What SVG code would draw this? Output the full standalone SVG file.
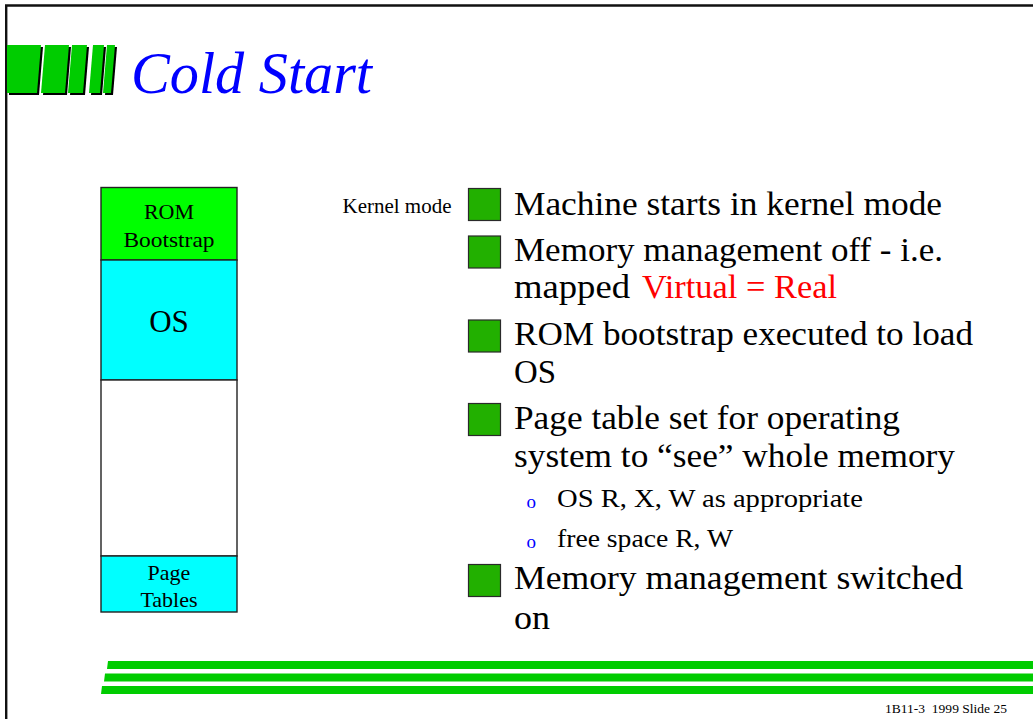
<svg xmlns="http://www.w3.org/2000/svg" width="1033" height="719" viewBox="0 0 1033 719">
  <style>
    .serif { font-family: "Liberation Serif", "Times New Roman", serif; }
    .body { font-family: "Liberation Serif", "Times New Roman", serif; font-size: 33px; fill: #000; }
    .sub { font-family: "Liberation Serif", "Times New Roman", serif; font-size: 25px; fill: #000; }
    .dot { font-family: "Liberation Serif", "Times New Roman", serif; font-size: 19px; fill: #0000ff; }
    .box-label { font-family: "Liberation Serif", "Times New Roman", serif; font-size: 22px; fill: #000; text-anchor: middle; }
    .box-label.big { font-size: 31px; }
    .mem { stroke: #222; stroke-width: 1.4; }
    .bullet { fill: #22b000; stroke: #2a2a2a; stroke-width: 1.2; }
    .stripe { fill: #00cc00; }
    .logo-bar { fill: #00cc00; }
    .logo-shadow { fill: #000; }
    .red { fill: #ff0000; }
  </style>

  <rect x="0" y="0" width="1033" height="719" fill="#fff"/>

  <!-- slide frame -->
  <g id="frame" fill="none" stroke="#111" stroke-width="2.4">
    <path d="M6.2 719 V5.5 H1033"/>
  </g>

  <!-- title bar logo -->
  <g id="logo">
    <g class="logo-shadow" transform="translate(2,2)">
      <polygon points="7,45 41,45 37,93 7,93"/>
      <polygon points="45,45 69,45 65,93 41,93"/>
      <polygon points="72,45 87,45 83,93 68,93"/>
      <polygon points="93,45 104,45 100,93 89,93"/>
      <polygon points="107,45 115,45 111,93 103,93"/>
    </g>
    <g class="logo-bar">
      <polygon points="7,45 41,45 37,93 7,93"/>
      <polygon points="45,45 69,45 65,93 41,93"/>
      <polygon points="72,45 87,45 83,93 68,93"/>
      <polygon points="93,45 104,45 100,93 89,93"/>
      <polygon points="107,45 115,45 111,93 103,93"/>
    </g>
  </g>

  <g id="title">
    <text class="serif" x="131" y="93" font-size="60" font-style="italic" fill="#0000ff" textLength="241" lengthAdjust="spacingAndGlyphs">Cold Start</text>
  </g>

  <!-- memory map -->
  <g id="memory-map">
    <g id="rom">
      <rect class="mem" x="101" y="187.5" width="136" height="72.5" fill="#00ff00"/>
      <text class="box-label" x="169" y="219">ROM</text>
      <text class="box-label" x="169" y="247" textLength="91" lengthAdjust="spacingAndGlyphs">Bootstrap</text>
    </g>
    <g id="os">
      <rect class="mem" x="101" y="260" width="136" height="120" fill="#00ffff"/>
      <text class="box-label big" x="169" y="332">OS</text>
    </g>
    <g id="free">
      <rect class="mem" x="101" y="380" width="136" height="176" fill="#fff" stroke="#555"/>
    </g>
    <g id="page-tables">
      <rect class="mem" x="101" y="556" width="136" height="56" fill="#00ffff"/>
      <text class="box-label" x="169" y="580">Page</text>
      <text class="box-label" x="169" y="606.5">Tables</text>
    </g>
  </g>

  <g id="kernel-mode-label">
    <text class="serif" x="342.5" y="213" font-size="20" fill="#000" textLength="109" lengthAdjust="spacingAndGlyphs">Kernel mode</text>
  </g>

  <!-- bullet points -->
  <g id="bullet-1">
    <rect class="bullet" x="468.5" y="188.5" width="32" height="32"/>
    <text class="body" x="514" y="215" textLength="428" lengthAdjust="spacingAndGlyphs">Machine starts in kernel mode</text>
  </g>
  <g id="bullet-2">
    <rect class="bullet" x="468.5" y="236" width="32" height="32"/>
    <text class="body" x="514" y="260.5" textLength="429" lengthAdjust="spacingAndGlyphs">Memory management off - i.e.</text>
    <text class="body" x="514" y="298" textLength="116" lengthAdjust="spacingAndGlyphs">mapped</text>
    <text class="body red" x="642" y="298" textLength="195" lengthAdjust="spacingAndGlyphs">Virtual = Real</text>
  </g>
  <g id="bullet-3">
    <rect class="bullet" x="468.5" y="320" width="32" height="32"/>
    <text class="body" x="514" y="345" textLength="459" lengthAdjust="spacingAndGlyphs">ROM bootstrap executed to load</text>
    <text class="body" x="514" y="383" textLength="42" lengthAdjust="spacingAndGlyphs">OS</text>
  </g>
  <g id="bullet-4">
    <rect class="bullet" x="468.5" y="403.5" width="32" height="32"/>
    <text class="body" x="514" y="428.5" textLength="386" lengthAdjust="spacingAndGlyphs">Page table set for operating</text>
    <text class="body" x="514" y="466.5" textLength="441" lengthAdjust="spacingAndGlyphs">system to “see” whole memory</text>
  </g>
  <g id="sub-bullet-1">
    <text class="dot" x="526.5" y="508">o</text>
    <text class="sub" x="557" y="506.5" textLength="306" lengthAdjust="spacingAndGlyphs">OS R, X, W as appropriate</text>
  </g>
  <g id="sub-bullet-2">
    <text class="dot" x="526.5" y="548">o</text>
    <text class="sub" x="557" y="546.5" textLength="176" lengthAdjust="spacingAndGlyphs">free space R, W</text>
  </g>
  <g id="bullet-5">
    <rect class="bullet" x="468.5" y="564.5" width="32" height="32"/>
    <text class="body" x="514" y="588.5" textLength="449" lengthAdjust="spacingAndGlyphs">Memory management switched</text>
    <text class="body" x="514" y="628.5" textLength="36" lengthAdjust="spacingAndGlyphs">on</text>
  </g>

  <!-- footer stripes -->
  <g id="footer-stripes">
    <polygon class="stripe" points="108,661 1033,661 1033,669 107,669"/>
    <polygon class="stripe" points="105,673.5 1033,673.5 1033,681.5 104,681.5"/>
    <polygon class="stripe" points="102,686 1033,686 1033,694 101,694"/>
  </g>

  <g id="footer">
    <text class="serif" x="885" y="713" font-size="13" fill="#000" style="white-space:pre" textLength="122" lengthAdjust="spacingAndGlyphs">1B11-3  1999 Slide 25</text>
  </g>
</svg>
